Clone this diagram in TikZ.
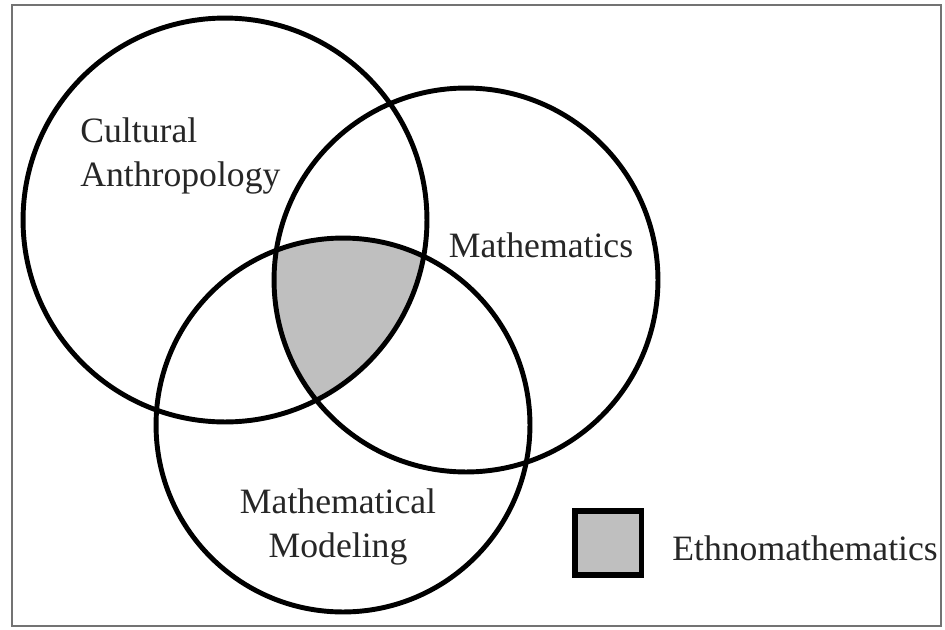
\documentclass[tikz,border=0pt]{standalone}
\usepackage{fontspec}
\setmainfont{Liberation Serif}
\begin{document}
\begin{tikzpicture}[x=0.02cm,y=-0.02cm]
\tikzset{
  setcircle/.style={circle,draw,line width=2.8pt,inner sep=0pt},
  setlabel/.style={font=\fontsize{20.3}{25}\selectfont,text=black!85,inner sep=0pt},
  legendbox/.style={draw,line width=3.4pt,fill=black!25,minimum width=1.34cm,minimum height=1.28cm,inner sep=0pt}
}
\useasboundingbox (0,0) rectangle (945,629);
\draw[black!55,line width=1.6pt] (12,5) rectangle (941,626);
\begin{scope}
  \clip (225,220) circle[radius=202];
  \clip (466,280) circle[radius=192];
  \fill[black!25] (343,425) circle[radius=187];
\end{scope}
\node[setcircle,minimum size=8.08cm] (anthro) at (225,220) {};
\node[setcircle,minimum size=7.68cm] (maths) at (466,280) {};
\node[setcircle,minimum size=7.48cm] (modeling) at (343,425) {};
\node[setlabel,align=left,anchor=north west] (anthro_l) at (80,117) {Cultural\\Anthropology};
\node[setlabel,anchor=base] (maths_l) at (541,257) {Mathematics};
\node[setlabel,align=center,anchor=north] (modeling_l) at (338,488) {Mathematical\\Modeling};
\node[legendbox] (key) at (608,543) {};
\node[setlabel,anchor=base west] (key_l) at (672,560) {Ethnomathematics};
\end{tikzpicture}
\end{document}
